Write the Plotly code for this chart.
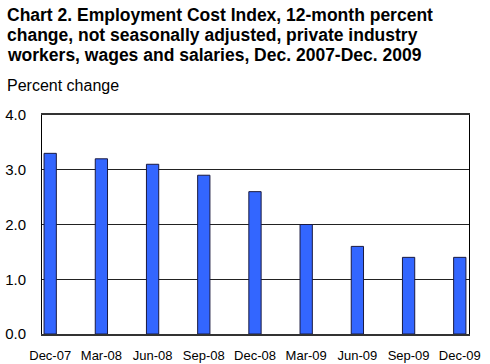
import plotly.graph_objects as go

categories = ["Dec-07", "Mar-08", "Jun-08", "Sep-08", "Dec-08", "Mar-09", "Jun-09", "Sep-09", "Dec-09"]
values = [3.3, 3.2, 3.1, 2.9, 2.6, 2.0, 1.6, 1.4, 1.4]
y_ticks = [0.0, 1.0, 2.0, 3.0, 4.0]
title_lines = [
    "Chart 2. Employment Cost Index, 12-month percent",
    "change, not seasonally adjusted, private industry",
    "workers, wages and salaries, Dec. 2007-Dec. 2009",
]
y_title = "Percent change"

FONT = "Liberation Sans, Arial, sans-serif"
xpos = list(range(len(categories)))

L, R, T, B = 42, 21, 115, 30
PW, PH = 490 - L - R, 364 - T - B

fig = go.Figure()
fig.add_trace(go.Bar(
    x=xpos, y=values, width=0.24,
    marker=dict(color="#3366FF", line=dict(color="#1a1a40", width=1)),
))

fig.update_layout(
    width=490, height=364,
    margin=dict(l=L, r=R, t=T, b=B),
    paper_bgcolor="white", plot_bgcolor="white",
    showlegend=False,
    font=dict(family=FONT, color="black"),
    xaxis=dict(
        range=[-0.16, 8.18], tickmode="array", tickvals=xpos, ticktext=categories,
        showgrid=False, zeroline=False, ticks="", automargin=False,
        showline=True, linecolor="#333333", linewidth=2, mirror=True,
        tickfont=dict(size=13, family=FONT, color="black"),
        ticklabelstandoff=8,
    ),
    yaxis=dict(
        range=[0, 4], tickmode="array", tickvals=y_ticks,
        ticktext=[f"{v:.1f}" for v in y_ticks],
        showgrid=True, gridcolor="#222222", gridwidth=1, zeroline=False, ticks="",
        showline=True, linecolor="black", linewidth=1, mirror=True, automargin=False,
        tickfont=dict(size=15, family=FONT, color="black"),
        ticklabelstandoff=12,
    ),
)

for i, line in enumerate(title_lines):
    fig.add_annotation(
        text=f"<b>{line}</b>", xref="paper", yref="paper",
        x=(5 - L)/PW, y=1 + (T - (23 + 20*i))/PH,
        xanchor="left", yanchor="bottom", showarrow=False,
        font=dict(size=17.5, family=FONT, color="black"), yshift=-4,
    )
fig.add_annotation(
    text=y_title, xref="paper", yref="paper",
    x=(5 - L)/PW, y=1 + (T - 92)/PH,
    xanchor="left", yanchor="bottom", showarrow=False,
    font=dict(size=16, family=FONT, color="black"), yshift=-4,
)

fig.write_html(
    "out.html",
    config={"displayModeBar": False},
    post_script="document.body.style.margin='0';document.body.style.overflow='hidden';",
)
